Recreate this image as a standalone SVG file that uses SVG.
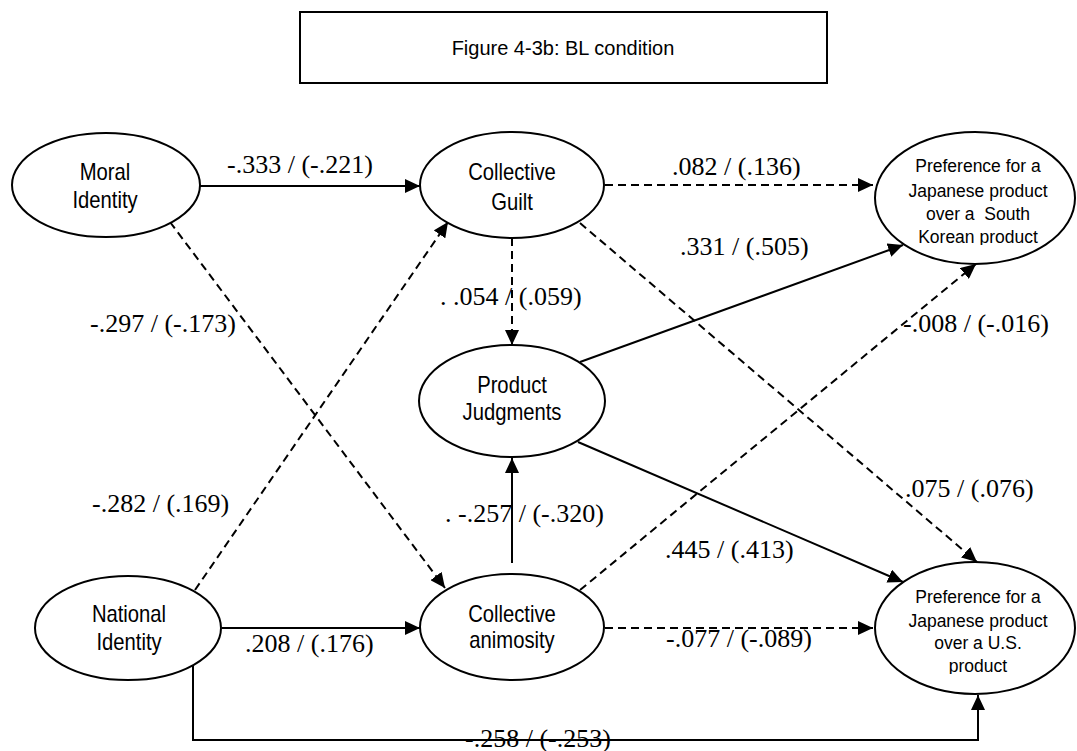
<svg xmlns="http://www.w3.org/2000/svg" width="1077" height="751" viewBox="0 0 1077 751">
  <style>
    .node { fill: #fff; stroke: #000; stroke-width: 2; }
    .lbl { font-family: "Liberation Sans", Arial, sans-serif; font-size: 23px; fill: #000; text-anchor: middle; }
    .small { font-family: "Liberation Sans", Arial, sans-serif; font-size: 17.5px; fill: #000; text-anchor: middle; }
    .coef { font-family: "Liberation Serif", "Times New Roman", serif; font-size: 26px; fill: #000; }
    .solid { fill: none; stroke: #000; stroke-width: 2; }
    .dash { fill: none; stroke: #000; stroke-width: 2; stroke-dasharray: 8 5; }
    .arr { marker-end: url(#head); }
  </style>
  <defs>
    <marker id="head" markerUnits="userSpaceOnUse" markerWidth="16" markerHeight="14" refX="15" refY="7" orient="auto">
      <path d="M0,0 L15,7 L0,14 Z" fill="#000"/>
    </marker>
    <clipPath id="clipTop"><rect x="870" y="120" width="207" height="125"/></clipPath>
    <clipPath id="clipBot"><rect x="870" y="555" width="207" height="119"/></clipPath>
  </defs>

  <rect width="1077" height="751" fill="#fff"/>

  <!-- title -->
  <g id="title">
    <rect x="300" y="12" width="527" height="71" fill="#fff" stroke="#000" stroke-width="2"/>
    <text x="563" y="55" font-family="'Liberation Sans', Arial, sans-serif" font-size="20" text-anchor="middle">Figure 4-3b: BL condition</text>
  </g>

  <!-- connectors -->
  <g id="connectors">
    <path class="solid arr" d="M200,186 H420"/>
    <path class="dash arr" d="M170,222 L445,588"/>
    <path class="dash arr" d="M195,590 L448,222"/>
    <path class="solid arr" d="M222,628 H420"/>
    <path class="solid arr" d="M193,665 V740 H978 V695"/>
    <path class="dash arr" d="M605,185 H873"/>
    <path class="dash arr" d="M512,238 V345"/>
    <path class="dash arr" d="M580,223 L977,562"/>
    <path class="solid arr" d="M580,362 L903,245"/>
    <path class="solid arr" d="M578,442 L903,582"/>
    <path class="solid arr" d="M512,563 V458"/>
    <path class="dash arr" d="M580,590 L976,264"/>
    <path class="dash arr" d="M605,628 H873"/>
  </g>

  <!-- path coefficients -->
  <g id="coefficients">
    <text class="coef" x="227" y="173">-.333 / (-.221)</text>
    <text class="coef" x="90" y="332">-.297 / (-.173)</text>
    <text class="coef" x="92" y="512">-.282 / (.169)</text>
    <text class="coef" x="245" y="652">.208 / (.176)</text>
    <text class="coef" x="672" y="175">.082 / (.136)</text>
    <text class="coef" x="680" y="255">.331 / (.505)</text>
    <text class="coef" x="440" y="305">. .054 / (.059)</text>
    <text class="coef" x="903" y="332">-.008 / (-.016)</text>
    <text class="coef" x="905" y="497">.075 / (.076)</text>
    <text class="coef" x="445" y="522">. -.257 / (-.320)</text>
    <text class="coef" x="665" y="558">.445 / (.413)</text>
    <text class="coef" x="666" y="647">-.077 / (-.089)</text>
    <text class="coef" x="465" y="747">-.258 / (-.253)</text>
  </g>

  <g id="moral-identity">
    <ellipse class="node" cx="106" cy="185" rx="94" ry="52"/>
    <g transform="translate(105,0) scale(0.88,1)">
      <text class="lbl" x="0" y="180">Moral</text>
      <text class="lbl" x="0" y="208">Identity</text>
    </g>
  </g>

  <g id="national-identity">
    <ellipse class="node" cx="128" cy="628" rx="93" ry="52"/>
    <g transform="translate(129,0) scale(0.88,1)">
      <text class="lbl" x="0" y="622">National</text>
      <text class="lbl" x="0" y="650">Identity</text>
    </g>
  </g>

  <g id="collective-guilt">
    <ellipse class="node" cx="512" cy="185" rx="92" ry="53"/>
    <g transform="translate(512,0) scale(0.88,1)">
      <text class="lbl" x="0" y="180">Collective</text>
      <text class="lbl" x="0" y="210">Guilt</text>
    </g>
  </g>

  <g id="product-judgments">
    <ellipse class="node" cx="512" cy="401" rx="93" ry="56"/>
    <g transform="translate(512,0) scale(0.88,1)">
      <text class="lbl" x="0" y="393">Product</text>
      <text class="lbl" x="0" y="420">Judgments</text>
    </g>
  </g>

  <g id="collective-animosity">
    <ellipse class="node" cx="512" cy="627" rx="92" ry="53"/>
    <g transform="translate(512,0) scale(0.88,1)">
      <text class="lbl" x="0" y="622">Collective</text>
      <text class="lbl" x="0" y="648">animosity</text>
    </g>
  </g>

  <g id="pref-south-korea">
    <ellipse class="node" cx="975" cy="198" rx="100" ry="66"/>
    <g clip-path="url(#clipTop)">
      <text class="small" x="978" y="172">Preference for a</text>
      <text class="small" x="978" y="197">Japanese product</text>
      <text class="small" x="978" y="220" xml:space="preserve">over a  South</text>
      <text class="small" x="978" y="243">Korean product</text>
    </g>
  </g>

  <g id="pref-us">
    <ellipse class="node" cx="975" cy="628" rx="100" ry="66"/>
    <g clip-path="url(#clipBot)">
      <text class="small" x="978" y="603">Preference for a</text>
      <text class="small" x="978" y="627">Japanese product</text>
      <text class="small" x="978" y="649">over a U.S.</text>
      <text class="small" x="978" y="672">product</text>
    </g>
  </g>
</svg>
